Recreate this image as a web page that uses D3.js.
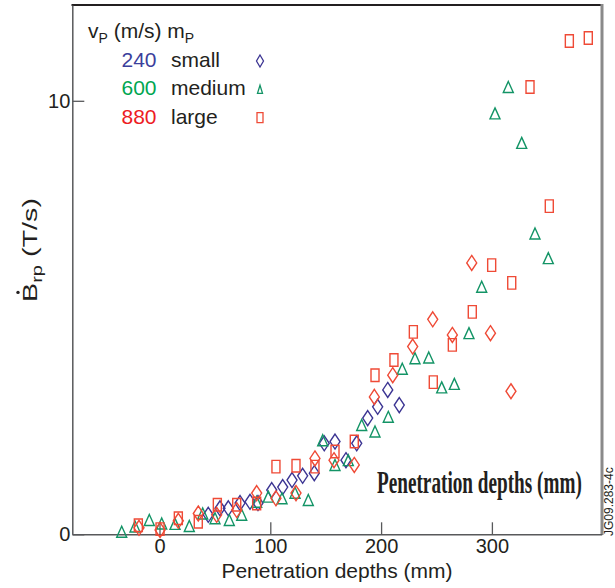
<!DOCTYPE html>
<html lang="en">
<head>
<meta charset="UTF-8">
<title>Penetration depths</title>
<script src="https://d3js.org/d3.v7.min.js"></script>
<style>
  body { margin: 0; background: #fff; }
  svg { display: block; font-family: "Liberation Sans", Arial, Helvetica, sans-serif; }
  .tick text { font-size: 20px; fill: #231f20; }
</style>
</head>
<body>
<div id="chart"></div>
<script>
// [penetration depth (mm), dB/dt (T/s)]
const blueDiamonds = [[44,0.45],[54.6,0.6],[62.1,0.6],[72.7,0.72],[81.7,0.75],[88.9,0.72],[101.3,1.02],
  [111.2,1.09],[119.6,1.25],[129.2,1.35],[139.7,1.41],[148.7,2.1],[158.4,2.14],[168.3,1.71],[178,2.1],
  [187.9,2.68],[196.9,2.94],[206,3.33],[216.4,2.98]];
const greenTriangles = [[-34.1,0.06],[-22.1,0.18],[-9.2,0.33],[2,0.25],[14,0.24],[26.9,0.19],[39,0.48],
  [50.1,0.37],[63,0.33],[74.2,0.45],[87.7,0.75],[98.2,0.87],[110.6,0.83],[122.3,0.96],[134.3,0.79],
  [147.3,2.17],[158.4,1.6],[170.4,1.71],[182.5,2.52],[194.5,2.37],[206.5,2.71],[219.1,3.82],[230.6,4.06],
  [243,4.08],[254.7,3.39],[266.1,3.47],[279.3,4.64],[290.8,5.71],[302.8,9.71],[314.8,10.32],[326.9,9.03],
  [338.9,6.94],[350.9,6.37]];
const redSquares = [[-19.1,0.21],[0.5,0.12],[17,0.37],[35,0.29],[52.2,0.68],[69.7,0.68],[87.7,0.71],
  [105.1,1.56],[123.2,1.58],[140.3,1.56],[158.4,1.91],[175.8,2.14],[194.5,3.67],[211.6,4.02],[229.1,4.67],
  [247.1,3.51],[264.3,4.37],[282.3,5.13],[299.8,6.21],[317.9,5.8],[334.4,10.32],[351.8,7.57],[369.9,11.38],
  [387,11.45]];
const redDiamonds = [[-18.5,0.15],[0.5,0.1],[17,0.31],[35,0.48],[51.6,0.45],[69.7,0.56],[87.7,0.95],
  [105.1,0.83],[123.2,0.95],[140.3,1.75],[157.5,1.71],[175.8,1.6],[193.9,3.17],[210.5,3.67],[228.5,4.33],
  [246.6,4.96],[264.3,4.6],[281.8,6.26],[298.7,4.64],[317.2,3.3]];

const xTicks = [0, 100, 200, 300];
const yTicks = [0, 10];
const legendSpeeds = ["240", "600", "880"];
const legendMasses = ["small", "medium", "large"];
const legendShapes = ["diamond", "triangle", "rect"];

const width = 615, height = 588;
const blue = "#3c3593", green = "#139466", red = "#ef4a36";
const legendColors = ["#3b3f9c", "#00a651", "#ed1c24"];

const svg = d3.select("#chart").append("svg")
  .attr("width", width)
  .attr("height", height);

const x = d3.scaleLinear().domain([-78.7, 399.1]).range([72.3, 601.7]);
const y = d3.scaleLinear().domain([0, 12.21]).range([534.3, 5]);

// marker outlines, centred on 0,0
function shapePath(kind, w, h) {
  if (kind === "diamond") return `M0,${-h/2}L${w/2},0L0,${h/2}L${-w/2},0Z`;
  if (kind === "triangle") return `M0,${-h/2}L${w/2},${h/2}L${-w/2},${h/2}Z`;
  return `M${-w/2},${-h/2}h${w}v${h}h${-w}Z`;
}
const sizes = { diamond: [10, 15], triangle: [10, 11], rect: [8, 12.5] };

// frame
svg.append("line").attr("x1", 71.5).attr("x2", 603).attr("y1", 5).attr("y2", 5)
  .attr("stroke", "#231f20").attr("stroke-width", 2);
svg.append("line").attr("x1", 602).attr("x2", 602).attr("y1", 4).attr("y2", 535)
  .attr("stroke", "#8a8a8a").attr("stroke-width", 3);

const xAxis = svg.append("g")
  .attr("transform", `translate(0,${y(0)})`)
  .call(d3.axisBottom(x).tickValues(xTicks).tickSizeInner(-12).tickSizeOuter(0).tickPadding(5));
const yAxis = svg.append("g")
  .attr("transform", `translate(${x.range()[0]},0)`)
  .call(d3.axisLeft(y).tickValues(yTicks).tickSizeInner(-12).tickSizeOuter(0).tickPadding(2));
[xAxis, yAxis].forEach(g => {
  g.select(".domain").attr("stroke", "#58595b").attr("stroke-width", 1.5);
  g.selectAll(".tick line").attr("stroke", "#58595b").attr("stroke-width", 1.3);
  g.selectAll("text").style("font-family", "'Liberation Sans', Arial, sans-serif");
});

// data points
const series = [
  { data: blueDiamonds, kind: "diamond", color: blue },
  { data: greenTriangles, kind: "triangle", color: green },
  { data: redSquares, kind: "rect", color: red },
  { data: redDiamonds, kind: "diamond", color: red }
];
series.forEach(s => {
  const [w, h] = sizes[s.kind];
  svg.append("g").selectAll("path")
    .data(s.data)
    .enter().append("path")
    .attr("transform", d => `translate(${x(d[0])},${y(d[1])})`)
    .attr("d", shapePath(s.kind, w, h))
    .attr("fill", "none")
    .attr("stroke", s.color)
    .attr("stroke-width", 1.4);
});

// x axis title
svg.append("text")
  .attr("x", 337).attr("y", 578)
  .attr("text-anchor", "middle")
  .attr("font-size", 21)
  .attr("fill", "#231f20")
  .text("Penetration depths (mm)");

// y axis title: B-dot_rp (T/s), stretched along its length like the original
const yTitle = svg.append("g");
const yText = yTitle.append("text")
  .attr("font-size", 20)
  .attr("fill", "#231f20");
yText.append("tspan").text("B");
yText.append("tspan").attr("font-size", 14).attr("dy", 5).text("rp");
yText.append("tspan").attr("dy", -5).text(" (T/s)");
const yLen = yText.node().getComputedTextLength();
const yStretch = 104 / yLen;
yTitle.attr("transform", `translate(37,302) rotate(-90) scale(${yStretch},1)`);
yTitle.append("circle")
  .attr("cx", 6.7)
  .attr("cy", -19)
  .attr("r", 1.7)
  .attr("fill", "#231f20")
  .attr("transform", `scale(${1 / yStretch},1) translate(${6.7 * yStretch - 6.7},0)`);

// legend
const legend = svg.append("g");
const head = legend.append("text")
  .attr("x", 88).attr("y", 38)
  .attr("font-size", 21)
  .attr("fill", "#231f20");
head.append("tspan").text("v");
head.append("tspan").attr("font-size", 14).attr("dy", 5).text("P");
head.append("tspan").attr("dy", -5).text(" (m/s) m");
head.append("tspan").attr("font-size", 14).attr("dy", 5).text("P");

const legendSizes = { diamond: [7, 12], triangle: [5, 8], rect: [6, 10] };
legendSpeeds.forEach((v, i) => {
  const by = 67 + i * 28.3;
  legend.append("text")
    .attr("x", 121.5).attr("y", by)
    .attr("font-size", 21)
    .attr("fill", legendColors[i])
    .text(v);
  legend.append("text")
    .attr("x", 171).attr("y", by)
    .attr("font-size", 21)
    .attr("fill", "#231f20")
    .text(legendMasses[i]);
  const kind = legendShapes[i];
  const [w, h] = legendSizes[kind];
  legend.append("path")
    .attr("transform", `translate(260,${by - 6})`)
    .attr("d", shapePath(kind, w, h))
    .attr("fill", "none")
    .attr("stroke", [blue, green, red][i])
    .attr("stroke-width", 1.3);
});

// leftover caption inside the plot, condensed horizontally
const cap = svg.append("text")
  .attr("font-family", "'Liberation Serif', 'Times New Roman', serif")
  .attr("font-weight", "bold")
  .attr("font-size", 32)
  .attr("fill", "#231f20")
  .text("Penetration depths (mm)");
const capLen = cap.node().getComputedTextLength();
cap.attr("transform", `translate(377,493) scale(${205 / capLen},1)`);

// figure id
svg.append("text")
  .attr("transform", "translate(613,536) rotate(-90)")
  .attr("font-size", 12)
  .attr("fill", "#231f20")
  .text("JG09.283-4c");
</script>
</body>
</html>
